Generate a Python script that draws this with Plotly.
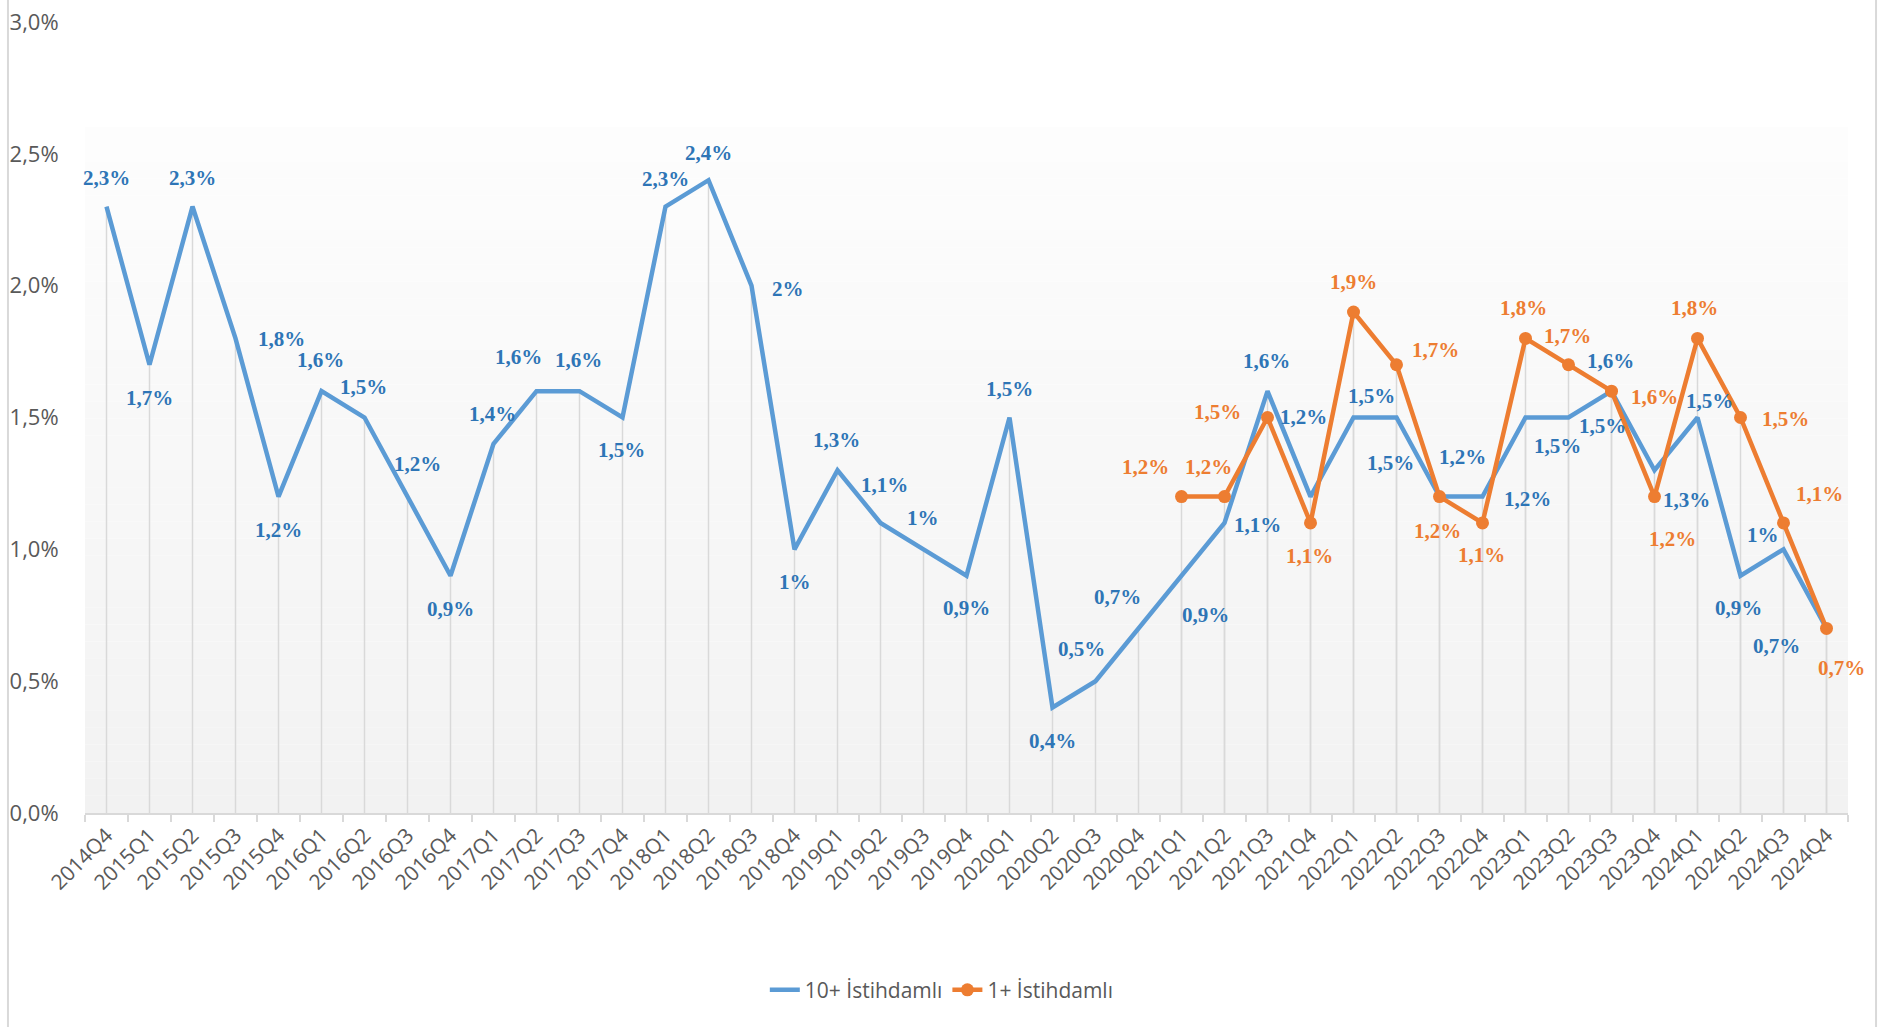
import plotly.graph_objects as go

# ---------------- data ----------------
quarters = [
    "2014Q4", "2015Q1", "2015Q2", "2015Q3", "2015Q4", "2016Q1", "2016Q2", "2016Q3", "2016Q4",
    "2017Q1", "2017Q2", "2017Q3", "2017Q4", "2018Q1", "2018Q2", "2018Q3", "2018Q4",
    "2019Q1", "2019Q2", "2019Q3", "2019Q4", "2020Q1", "2020Q2", "2020Q3", "2020Q4",
    "2021Q1", "2021Q2", "2021Q3", "2021Q4", "2022Q1", "2022Q2", "2022Q3", "2022Q4",
    "2023Q1", "2023Q2", "2023Q3", "2023Q4", "2024Q1", "2024Q2", "2024Q3", "2024Q4",
]
emp10 = [
    2.3, 1.7, 2.3, 1.8, 1.2, 1.6, 1.5, 1.2, 0.9,
    1.4, 1.6, 1.6, 1.5, 2.3, 2.4, 2.0, 1.0,
    1.3, 1.1, 1.0, 0.9, 1.5, 0.4, 0.5, 0.7,
    0.9, 1.1, 1.6, 1.2, 1.5, 1.5, 1.2, 1.2,
    1.5, 1.5, 1.6, 1.3, 1.5, 0.9, 1.0, 0.7,
]
quarters1 = quarters[25:]
emp1 = [1.2, 1.2, 1.5, 1.1, 1.9, 1.7, 1.2, 1.1, 1.8, 1.7, 1.6, 1.2, 1.8, 1.5, 1.1, 0.7]

name10 = "10+ İstihdamlı"
name1 = "1+ İstihdamlı"
y_ticks = [0, 0.5, 1.0, 1.5, 2.0, 2.5, 3.0]
y_ticktext = ["0,0%", "0,5%", "1,0%", "1,5%", "2,0%", "2,5%", "3,0%"]

# label offsets (screen px, dx right, dy down) relative to each point
off10 = [
    (0, -29), (0, 33), (0, -29), (46, 1), (0, 33), (-1, -31), (-1, -31), (10, -33), (0, 33),
    (-1, -30), (-18, -34), (-1, -31), (-1, 32), (0, -28), (0, -27), (36, 3), (0, 33),
    (-1, -30), (4, -38), (-1, -31), (0, 32), (0, -29), (0, 33), (-14, -32), (-21, -31),
    (24, 39), (33, 2), (-1, -30), (-7, -80), (18, -22), (-6, 45), (23, -40), (45, 2),
    (32, 28), (34, 8), (-1, -30), (32, 30), (12, -17), (-2, 32), (-21, -14), (-50, 18),
]
off1 = [
    (-36, -30), (-16, -30), (-50, -6), (-1, 33), (0, -30), (39, -15), (-2, 34), (-1, 32),
    (-2, -30), (-1, -29), (43, 6), (18, 42), (-3, -30), (45, 1), (36, -29), (15, 40),
]

BLUE = "#5B9BD5"
BLUE_LBL = "#2E75B6"
ORANGE = "#ED7D31"
GRAY_TXT = "#595959"
GRID = "#D9D9D9"


def fmt(v):
    return ("%g" % v).replace(".", ",") + "%"


def drops(xs, ys):
    dx, dy = [], []
    for x, y in zip(xs, ys):
        dx += [x, x, None]
        dy += [0, y, None]
    return dx, dy


fig = go.Figure()

for xs, ys in ((quarters, emp10), (quarters1, emp1)):
    dx, dy = drops(xs, ys)
    fig.add_trace(go.Scatter(x=dx, y=dy, mode="lines", line=dict(color=GRID, width=1.5),
                             hoverinfo="skip", showlegend=False))

fig.add_trace(go.Scatter(x=quarters, y=emp10, mode="lines", name=name10,
                         line=dict(color=BLUE, width=4.5)))
fig.add_trace(go.Scatter(x=quarters1, y=emp1, mode="lines+markers", name=name1,
                         line=dict(color=ORANGE, width=4.5),
                         marker=dict(color=ORANGE, size=13)))

annotations = []
for xs, ys, offs, col in ((quarters, emp10, off10, BLUE_LBL), (quarters1, emp1, off1, ORANGE)):
    for x, y, (ox, oy) in zip(xs, ys, offs):
        annotations.append(dict(
            x=x, y=y, xref="x", yref="y", text=fmt(y), showarrow=False,
            xanchor="center", yanchor="middle", xshift=ox, yshift=-oy,
            font=dict(family="Liberation Serif", size=21, color=col, weight="bold"),
        ))

# gradient plot-area background
shapes = []
top_paper = 0.867
n = 40
for k in range(n):
    y0 = top_paper * k / n
    y1 = top_paper * (k + 1) / n
    t = k / (n - 1)
    c = int(round(242 + (253 - 242) * t))
    shapes.append(dict(type="rect", xref="paper", yref="paper", x0=0, x1=1, y0=y0, y1=y1,
                       fillcolor=f"rgb({c},{c},{c})", line=dict(width=0), layer="below"))
# chart border (left / right)
for xp in (-0.0437, 1.0159):
    shapes.append(dict(type="line", xref="paper", yref="paper", x0=xp, x1=xp, y0=-0.28, y1=1.03,
                       line=dict(color=GRID, width=2)))

fig.update_layout(
    width=1885, height=1027,
    margin=dict(l=85, r=37, t=22, b=214),
    paper_bgcolor="white", plot_bgcolor="white",
    separators=",.",
    font=dict(family="Open Sans", size=20, color=GRAY_TXT),
    shapes=shapes,
    annotations=annotations,
    showlegend=True,
    legend=dict(orientation="h", x=0.486, xanchor="center", y=-0.224, yanchor="middle",
                font=dict(family="Open Sans", size=21, color=GRAY_TXT),
                bgcolor="rgba(0,0,0,0)"),
    xaxis=dict(type="category", categoryorder="array", categoryarray=quarters,
               range=[-0.5, len(quarters) - 0.5], tickangle=-45, automargin=False,
               showgrid=False, zeroline=False, showline=True, linecolor=GRID, linewidth=2,
               ticks="outside", ticklen=7, tickcolor=GRID, tickwidth=2, tickson="boundaries",
               tickfont=dict(family="Open Sans", size=21, color=GRAY_TXT)),
    yaxis=dict(range=[0, 3.0], tickvals=y_ticks, ticktext=y_ticktext, automargin=False,
               ticklabeloverflow="allow",
               showgrid=False, zeroline=False, showline=False,
               ticks="outside", ticklen=21, tickcolor="rgba(0,0,0,0)",
               tickfont=dict(family="Open Sans", size=22, color=GRAY_TXT)),
)

fig.write_html(
    "out.html",
    config={"displayModeBar": False},
    post_script="document.body.style.margin='0';document.body.style.overflow='hidden';",
)
